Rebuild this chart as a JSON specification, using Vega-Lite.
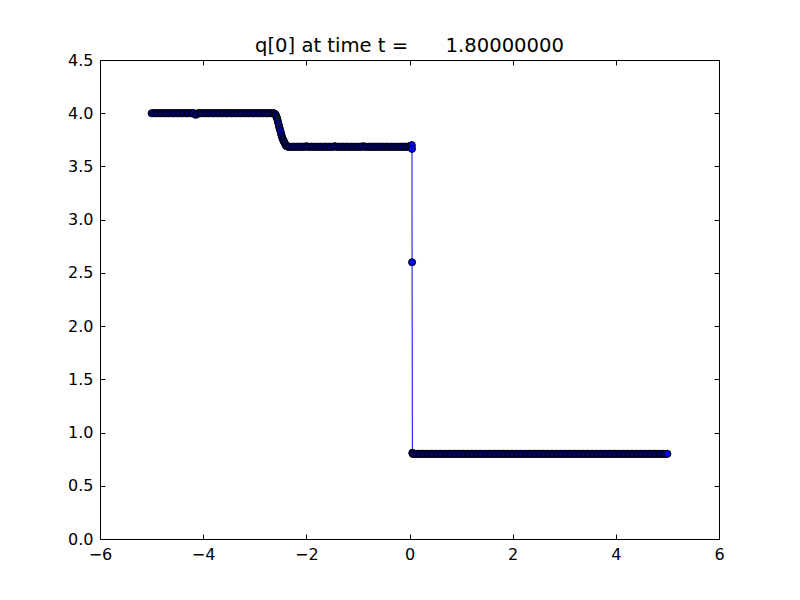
{
  "$schema": "https://vega.github.io/schema/vega-lite/v6.json",
  "autosize": "none",
  "width": 619,
  "height": 479,
  "padding": {"left": 100, "top": 60, "right": 81, "bottom": 61},
  "background": "white",
  "title": {"text": "q[0] at time t = \u00a0\u00a0\u00a0\u00a0 1.80000000", "font": "DejaVu Sans", "fontSize": 19.6, "fontWeight": "normal", "color": "black", "offset": -5, "anchor": "middle"},
  "config": {
    "view": {"stroke": "black", "strokeWidth": 1},
    "axis": {"grid": false, "domain": false, "tickColor": "black", "tickSize": -5, "tickWidth": 1, "labelFont": "DejaVu Sans", "labelFontSize": 16, "labelColor": "black", "labelPadding": 12, "labelFlush": false, "title": null}
  },
  "datasets": {"q": [
    {"x": -5.000, "q": 4.0}, {"x": -4.975, "q": 4.0}, {"x": -4.950, "q": 4.0}, {"x": -4.925, "q": 4.0}, {"x": -4.900, "q": 4.0},
    {"x": -4.875, "q": 4.0}, {"x": -4.850, "q": 4.0}, {"x": -4.825, "q": 4.0}, {"x": -4.800, "q": 4.0}, {"x": -4.775, "q": 4.0},
    {"x": -4.750, "q": 4.0}, {"x": -4.725, "q": 4.0}, {"x": -4.700, "q": 4.0}, {"x": -4.675, "q": 4.0}, {"x": -4.650, "q": 4.0},
    {"x": -4.625, "q": 4.0}, {"x": -4.600, "q": 4.0}, {"x": -4.575, "q": 4.0}, {"x": -4.550, "q": 4.0}, {"x": -4.525, "q": 4.0},
    {"x": -4.500, "q": 4.0}, {"x": -4.475, "q": 4.0}, {"x": -4.450, "q": 4.0}, {"x": -4.425, "q": 4.0}, {"x": -4.400, "q": 4.0},
    {"x": -4.375, "q": 4.0}, {"x": -4.350, "q": 4.0}, {"x": -4.325, "q": 4.0}, {"x": -4.300, "q": 4.0}, {"x": -4.275, "q": 4.0},
    {"x": -4.250, "q": 4.0}, {"x": -4.225, "q": 4.0}, {"x": -4.200, "q": 4.0}, {"x": -4.175, "q": 4.0}, {"x": -4.150, "q": 3.985},
    {"x": -4.125, "q": 3.99}, {"x": -4.100, "q": 4.0}, {"x": -4.075, "q": 4.0}, {"x": -4.050, "q": 4.0}, {"x": -4.025, "q": 4.0},
    {"x": -4.000, "q": 4.0}, {"x": -3.975, "q": 4.0}, {"x": -3.950, "q": 4.0}, {"x": -3.925, "q": 4.0}, {"x": -3.900, "q": 4.0},
    {"x": -3.875, "q": 4.0}, {"x": -3.850, "q": 4.0}, {"x": -3.825, "q": 4.0}, {"x": -3.800, "q": 4.0}, {"x": -3.775, "q": 4.0},
    {"x": -3.750, "q": 4.0}, {"x": -3.725, "q": 4.0}, {"x": -3.700, "q": 4.0}, {"x": -3.675, "q": 4.0}, {"x": -3.650, "q": 4.0},
    {"x": -3.625, "q": 4.0}, {"x": -3.600, "q": 4.0}, {"x": -3.575, "q": 4.0}, {"x": -3.550, "q": 4.0}, {"x": -3.525, "q": 4.0},
    {"x": -3.500, "q": 4.0}, {"x": -3.475, "q": 4.0}, {"x": -3.450, "q": 4.0}, {"x": -3.425, "q": 4.0}, {"x": -3.400, "q": 4.0},
    {"x": -3.375, "q": 4.0}, {"x": -3.350, "q": 4.0}, {"x": -3.325, "q": 4.0}, {"x": -3.300, "q": 4.0}, {"x": -3.275, "q": 4.0},
    {"x": -3.250, "q": 4.0}, {"x": -3.225, "q": 4.0}, {"x": -3.200, "q": 4.0}, {"x": -3.175, "q": 4.0}, {"x": -3.150, "q": 4.0},
    {"x": -3.125, "q": 4.0}, {"x": -3.100, "q": 4.0}, {"x": -3.075, "q": 4.0}, {"x": -3.050, "q": 4.0}, {"x": -3.025, "q": 4.0},
    {"x": -3.000, "q": 4.0}, {"x": -2.975, "q": 4.0}, {"x": -2.950, "q": 4.0}, {"x": -2.925, "q": 4.0}, {"x": -2.900, "q": 4.0},
    {"x": -2.875, "q": 4.0}, {"x": -2.850, "q": 4.0}, {"x": -2.825, "q": 4.0}, {"x": -2.800, "q": 4.0}, {"x": -2.775, "q": 4.0},
    {"x": -2.750, "q": 4.0}, {"x": -2.725, "q": 4.0}, {"x": -2.700, "q": 4.0}, {"x": -2.675, "q": 4.0}, {"x": -2.650, "q": 4.0},
    {"x": -2.630, "q": 4.0}, {"x": -2.615, "q": 3.995}, {"x": -2.600, "q": 3.99}, {"x": -2.590, "q": 3.98}, {"x": -2.580, "q": 3.97},
    {"x": -2.570, "q": 3.955}, {"x": -2.560, "q": 3.94}, {"x": -2.550, "q": 3.92}, {"x": -2.540, "q": 3.90}, {"x": -2.530, "q": 3.88},
    {"x": -2.520, "q": 3.86}, {"x": -2.510, "q": 3.845}, {"x": -2.500, "q": 3.83}, {"x": -2.490, "q": 3.81}, {"x": -2.480, "q": 3.79},
    {"x": -2.470, "q": 3.775}, {"x": -2.460, "q": 3.76}, {"x": -2.450, "q": 3.75}, {"x": -2.440, "q": 3.74}, {"x": -2.430, "q": 3.73},
    {"x": -2.420, "q": 3.72}, {"x": -2.410, "q": 3.71}, {"x": -2.400, "q": 3.70}, {"x": -2.390, "q": 3.695}, {"x": -2.380, "q": 3.69},
    {"x": -2.365, "q": 3.687}, {"x": -2.350, "q": 3.685}, {"x": -2.325, "q": 3.685}, {"x": -2.300, "q": 3.685}, {"x": -2.275, "q": 3.685},
    {"x": -2.250, "q": 3.685}, {"x": -2.225, "q": 3.685}, {"x": -2.200, "q": 3.685}, {"x": -2.175, "q": 3.685}, {"x": -2.150, "q": 3.685},
    {"x": -2.125, "q": 3.685}, {"x": -2.100, "q": 3.685}, {"x": -2.075, "q": 3.685}, {"x": -2.050, "q": 3.685}, {"x": -2.025, "q": 3.685},
    {"x": -2.000, "q": 3.69}, {"x": -1.975, "q": 3.685}, {"x": -1.950, "q": 3.685}, {"x": -1.925, "q": 3.685}, {"x": -1.900, "q": 3.685},
    {"x": -1.875, "q": 3.685}, {"x": -1.850, "q": 3.685}, {"x": -1.825, "q": 3.685}, {"x": -1.800, "q": 3.685}, {"x": -1.775, "q": 3.685},
    {"x": -1.750, "q": 3.685}, {"x": -1.725, "q": 3.685}, {"x": -1.700, "q": 3.685}, {"x": -1.675, "q": 3.685}, {"x": -1.650, "q": 3.685},
    {"x": -1.625, "q": 3.685}, {"x": -1.600, "q": 3.685}, {"x": -1.575, "q": 3.685}, {"x": -1.550, "q": 3.685}, {"x": -1.525, "q": 3.685},
    {"x": -1.500, "q": 3.685}, {"x": -1.475, "q": 3.685}, {"x": -1.450, "q": 3.69}, {"x": -1.425, "q": 3.685}, {"x": -1.400, "q": 3.685},
    {"x": -1.375, "q": 3.685}, {"x": -1.350, "q": 3.685}, {"x": -1.325, "q": 3.685}, {"x": -1.300, "q": 3.685}, {"x": -1.275, "q": 3.685},
    {"x": -1.250, "q": 3.685}, {"x": -1.225, "q": 3.685}, {"x": -1.200, "q": 3.685}, {"x": -1.175, "q": 3.685}, {"x": -1.150, "q": 3.685},
    {"x": -1.125, "q": 3.685}, {"x": -1.100, "q": 3.685}, {"x": -1.075, "q": 3.685}, {"x": -1.050, "q": 3.685}, {"x": -1.025, "q": 3.685},
    {"x": -1.000, "q": 3.685}, {"x": -0.975, "q": 3.685}, {"x": -0.950, "q": 3.685}, {"x": -0.925, "q": 3.685}, {"x": -0.900, "q": 3.69},
    {"x": -0.875, "q": 3.685}, {"x": -0.850, "q": 3.685}, {"x": -0.825, "q": 3.685}, {"x": -0.800, "q": 3.685}, {"x": -0.775, "q": 3.685},
    {"x": -0.750, "q": 3.685}, {"x": -0.725, "q": 3.685}, {"x": -0.700, "q": 3.685}, {"x": -0.675, "q": 3.685}, {"x": -0.650, "q": 3.685},
    {"x": -0.625, "q": 3.685}, {"x": -0.600, "q": 3.685}, {"x": -0.575, "q": 3.685}, {"x": -0.550, "q": 3.685}, {"x": -0.525, "q": 3.685},
    {"x": -0.500, "q": 3.685}, {"x": -0.475, "q": 3.685}, {"x": -0.450, "q": 3.685}, {"x": -0.425, "q": 3.685}, {"x": -0.400, "q": 3.685},
    {"x": -0.375, "q": 3.685}, {"x": -0.350, "q": 3.685}, {"x": -0.325, "q": 3.685}, {"x": -0.300, "q": 3.685}, {"x": -0.275, "q": 3.685},
    {"x": -0.250, "q": 3.685}, {"x": -0.225, "q": 3.685}, {"x": -0.200, "q": 3.685}, {"x": -0.175, "q": 3.685}, {"x": -0.150, "q": 3.685},
    {"x": -0.125, "q": 3.685}, {"x": -0.100, "q": 3.685}, {"x": -0.075, "q": 3.685}, {"x": -0.050, "q": 3.685}, {"x": -0.025, "q": 3.685},
    {"x": 0.000, "q": 3.69}, {"x": 0.020, "q": 3.69}, {"x": 0.035, "q": 3.695},
    {"x": 0.045, "q": 3.70}, {"x": 0.048, "q": 3.665}, {"x": 0.050, "q": 2.60}, {"x": 0.055, "q": 0.81}, {"x": 0.060, "q": 0.80},
    {"x": 0.075, "q": 0.80}, {"x": 0.100, "q": 0.80}, {"x": 0.125, "q": 0.80}, {"x": 0.150, "q": 0.80}, {"x": 0.175, "q": 0.80},
    {"x": 0.200, "q": 0.80}, {"x": 0.225, "q": 0.80}, {"x": 0.250, "q": 0.80}, {"x": 0.275, "q": 0.80}, {"x": 0.300, "q": 0.80},
    {"x": 0.325, "q": 0.80}, {"x": 0.350, "q": 0.80}, {"x": 0.375, "q": 0.80}, {"x": 0.400, "q": 0.80}, {"x": 0.425, "q": 0.80},
    {"x": 0.450, "q": 0.80}, {"x": 0.475, "q": 0.80}, {"x": 0.500, "q": 0.80}, {"x": 0.525, "q": 0.80}, {"x": 0.550, "q": 0.80},
    {"x": 0.575, "q": 0.80}, {"x": 0.600, "q": 0.80}, {"x": 0.625, "q": 0.80}, {"x": 0.650, "q": 0.80}, {"x": 0.675, "q": 0.80},
    {"x": 0.700, "q": 0.80}, {"x": 0.725, "q": 0.80}, {"x": 0.750, "q": 0.80}, {"x": 0.775, "q": 0.80}, {"x": 0.800, "q": 0.80},
    {"x": 0.825, "q": 0.80}, {"x": 0.850, "q": 0.80}, {"x": 0.875, "q": 0.80}, {"x": 0.900, "q": 0.80}, {"x": 0.925, "q": 0.80},
    {"x": 0.950, "q": 0.80}, {"x": 0.975, "q": 0.80}, {"x": 1.000, "q": 0.80}, {"x": 1.025, "q": 0.80}, {"x": 1.050, "q": 0.80},
    {"x": 1.075, "q": 0.80}, {"x": 1.100, "q": 0.80}, {"x": 1.125, "q": 0.80}, {"x": 1.150, "q": 0.80}, {"x": 1.175, "q": 0.80},
    {"x": 1.200, "q": 0.80}, {"x": 1.225, "q": 0.80}, {"x": 1.250, "q": 0.80}, {"x": 1.275, "q": 0.80}, {"x": 1.300, "q": 0.80},
    {"x": 1.325, "q": 0.80}, {"x": 1.350, "q": 0.80}, {"x": 1.375, "q": 0.80}, {"x": 1.400, "q": 0.80}, {"x": 1.425, "q": 0.80},
    {"x": 1.450, "q": 0.80}, {"x": 1.475, "q": 0.80}, {"x": 1.500, "q": 0.80}, {"x": 1.525, "q": 0.80}, {"x": 1.550, "q": 0.80},
    {"x": 1.575, "q": 0.80}, {"x": 1.600, "q": 0.80}, {"x": 1.625, "q": 0.80}, {"x": 1.650, "q": 0.80}, {"x": 1.675, "q": 0.80},
    {"x": 1.700, "q": 0.80}, {"x": 1.725, "q": 0.80}, {"x": 1.750, "q": 0.80}, {"x": 1.775, "q": 0.80}, {"x": 1.800, "q": 0.80},
    {"x": 1.825, "q": 0.80}, {"x": 1.850, "q": 0.80}, {"x": 1.875, "q": 0.80}, {"x": 1.900, "q": 0.80}, {"x": 1.925, "q": 0.80},
    {"x": 1.950, "q": 0.80}, {"x": 1.975, "q": 0.80}, {"x": 2.000, "q": 0.80}, {"x": 2.025, "q": 0.80}, {"x": 2.050, "q": 0.80},
    {"x": 2.075, "q": 0.80}, {"x": 2.100, "q": 0.80}, {"x": 2.125, "q": 0.80}, {"x": 2.150, "q": 0.80}, {"x": 2.175, "q": 0.80},
    {"x": 2.200, "q": 0.80}, {"x": 2.225, "q": 0.80}, {"x": 2.250, "q": 0.80}, {"x": 2.275, "q": 0.80}, {"x": 2.300, "q": 0.80},
    {"x": 2.325, "q": 0.80}, {"x": 2.350, "q": 0.80}, {"x": 2.375, "q": 0.80}, {"x": 2.400, "q": 0.80}, {"x": 2.425, "q": 0.80},
    {"x": 2.450, "q": 0.80}, {"x": 2.475, "q": 0.80}, {"x": 2.500, "q": 0.80}, {"x": 2.525, "q": 0.80}, {"x": 2.550, "q": 0.80},
    {"x": 2.575, "q": 0.80}, {"x": 2.600, "q": 0.80}, {"x": 2.625, "q": 0.80}, {"x": 2.650, "q": 0.80}, {"x": 2.675, "q": 0.80},
    {"x": 2.700, "q": 0.80}, {"x": 2.725, "q": 0.80}, {"x": 2.750, "q": 0.80}, {"x": 2.775, "q": 0.80}, {"x": 2.800, "q": 0.80},
    {"x": 2.825, "q": 0.80}, {"x": 2.850, "q": 0.80}, {"x": 2.875, "q": 0.80}, {"x": 2.900, "q": 0.80}, {"x": 2.925, "q": 0.80},
    {"x": 2.950, "q": 0.80}, {"x": 2.975, "q": 0.80}, {"x": 3.000, "q": 0.80}, {"x": 3.025, "q": 0.80}, {"x": 3.050, "q": 0.80},
    {"x": 3.075, "q": 0.80}, {"x": 3.100, "q": 0.80}, {"x": 3.125, "q": 0.80}, {"x": 3.150, "q": 0.80}, {"x": 3.175, "q": 0.80},
    {"x": 3.200, "q": 0.80}, {"x": 3.225, "q": 0.80}, {"x": 3.250, "q": 0.80}, {"x": 3.275, "q": 0.80}, {"x": 3.300, "q": 0.80},
    {"x": 3.325, "q": 0.80}, {"x": 3.350, "q": 0.80}, {"x": 3.375, "q": 0.80}, {"x": 3.400, "q": 0.80}, {"x": 3.425, "q": 0.80},
    {"x": 3.450, "q": 0.80}, {"x": 3.475, "q": 0.80}, {"x": 3.500, "q": 0.80}, {"x": 3.525, "q": 0.80}, {"x": 3.550, "q": 0.80},
    {"x": 3.575, "q": 0.80}, {"x": 3.600, "q": 0.80}, {"x": 3.625, "q": 0.80}, {"x": 3.650, "q": 0.80}, {"x": 3.675, "q": 0.80},
    {"x": 3.700, "q": 0.80}, {"x": 3.725, "q": 0.80}, {"x": 3.750, "q": 0.80}, {"x": 3.775, "q": 0.80}, {"x": 3.800, "q": 0.80},
    {"x": 3.825, "q": 0.80}, {"x": 3.850, "q": 0.80}, {"x": 3.875, "q": 0.80}, {"x": 3.900, "q": 0.80}, {"x": 3.925, "q": 0.80},
    {"x": 3.950, "q": 0.80}, {"x": 3.975, "q": 0.80}, {"x": 4.000, "q": 0.80}, {"x": 4.025, "q": 0.80}, {"x": 4.050, "q": 0.80},
    {"x": 4.075, "q": 0.80}, {"x": 4.100, "q": 0.80}, {"x": 4.125, "q": 0.80}, {"x": 4.150, "q": 0.80}, {"x": 4.175, "q": 0.80},
    {"x": 4.200, "q": 0.80}, {"x": 4.225, "q": 0.80}, {"x": 4.250, "q": 0.80}, {"x": 4.275, "q": 0.80}, {"x": 4.300, "q": 0.80},
    {"x": 4.325, "q": 0.80}, {"x": 4.350, "q": 0.80}, {"x": 4.375, "q": 0.80}, {"x": 4.400, "q": 0.80}, {"x": 4.425, "q": 0.80},
    {"x": 4.450, "q": 0.80}, {"x": 4.475, "q": 0.80}, {"x": 4.500, "q": 0.80}, {"x": 4.525, "q": 0.80}, {"x": 4.550, "q": 0.80},
    {"x": 4.575, "q": 0.80}, {"x": 4.600, "q": 0.80}, {"x": 4.625, "q": 0.80}, {"x": 4.650, "q": 0.80}, {"x": 4.675, "q": 0.80},
    {"x": 4.700, "q": 0.80}, {"x": 4.725, "q": 0.80}, {"x": 4.750, "q": 0.80}, {"x": 4.775, "q": 0.80}, {"x": 4.800, "q": 0.80},
    {"x": 4.825, "q": 0.80}, {"x": 4.850, "q": 0.80}, {"x": 4.875, "q": 0.80}, {"x": 4.900, "q": 0.80}, {"x": 4.925, "q": 0.80},
    {"x": 4.950, "q": 0.80}, {"x": 4.975, "q": 0.80}, {"x": 5.000, "q": 0.80}
  ]},
  "data": {"name": "q"},
  "layer": [
    {
      "mark": {"type": "line", "color": "#0000ff", "strokeWidth": 1, "clip": true},
      "encoding": {
        "x": {"field": "x", "type": "quantitative", "scale": {"domain": [-6, 6], "nice": false, "zero": false},
              "axis": {"orient": "bottom", "values": [-6, -4, -2, 0, 2, 4, 6], "format": "d"}},
        "y": {"field": "q", "type": "quantitative", "scale": {"domain": [0, 4.5], "nice": false, "zero": false},
              "axis": {"orient": "left", "values": [0, 0.5, 1, 1.5, 2, 2.5, 3, 3.5, 4, 4.5], "format": ".1f"}}
      }
    },
    {
      "mark": {"type": "point", "shape": "circle", "filled": true, "fill": "#0000ff", "stroke": "black", "strokeWidth": 1, "size": 50, "opacity": 1},
      "encoding": {
        "x": {"field": "x", "type": "quantitative",
              "axis": {"orient": "top", "values": [-6, -4, -2, 0, 2, 4, 6], "labels": false}},
        "y": {"field": "q", "type": "quantitative",
              "axis": {"orient": "right", "values": [0, 0.5, 1, 1.5, 2, 2.5, 3, 3.5, 4, 4.5], "labels": false}}
      }
    }
  ],
  "resolve": {"axis": {"x": "independent", "y": "independent"}}
}
